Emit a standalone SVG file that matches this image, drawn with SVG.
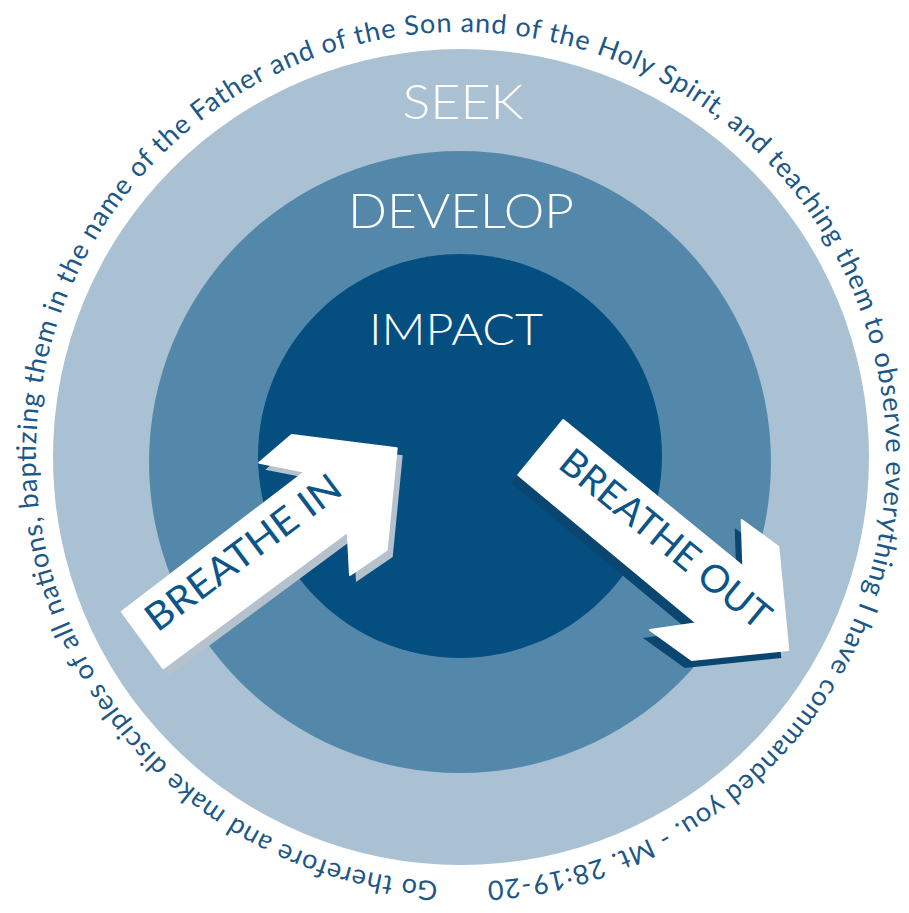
<svg xmlns="http://www.w3.org/2000/svg" xmlns:xlink="http://www.w3.org/1999/xlink" width="909" height="913" viewBox="0 0 909 913">
<style>
.lbl{font-family:Lato,"Open Sans","Liberation Sans",sans-serif;font-weight:300;fill:#ffffff;text-anchor:middle}
.arrtxt{font-family:Lato,"Open Sans","Liberation Sans",sans-serif;font-weight:400;fill:#0b5589;text-anchor:middle}
.ring{font-family:Lato,"Open Sans","Liberation Sans",sans-serif;font-weight:400;fill:#1c5787;font-size:27px}
.arrow{fill:#ffffff;stroke:#ffffff;stroke-width:2;stroke-linejoin:round}
</style>
<defs>
<path id="ringpath" d="M 461 882 A 425 425 0 1 1 461 32 A 425 425 0 1 1 461 882"/>
</defs>
<rect width="909" height="913" fill="#ffffff"/>
<g id="seek">
<circle cx="461" cy="457" r="408" fill="#a9c1d3"/>
<text class="lbl" x="463" y="119" font-size="47" textLength="121" lengthAdjust="spacingAndGlyphs">SEEK</text>
</g>
<g id="develop">
<circle cx="460" cy="462" r="311" fill="#5488ab"/>
<text class="lbl" x="461" y="228" font-size="48" textLength="226" lengthAdjust="spacingAndGlyphs">DEVELOP</text>
</g>
<g id="impact">
<circle cx="460" cy="456" r="202" fill="#044f80"/>
<text class="lbl" x="456" y="345" font-size="44" textLength="174" lengthAdjust="spacingAndGlyphs">IMPACT</text>
</g>
<g id="scripture">
<text class="ring"><textPath xlink:href="#ringpath" href="#ringpath" startOffset="23" textLength="2621" lengthAdjust="spacing">Go therefore and make disciples of all nations, baptizing them in the name of the Father and of the Son and of the Holy Spirit, and teaching them to observe everything I have commanded you. - Mt. 28:19-20</textPath></text>
</g>
<g id="breathe-in">
<polygon points="127.7,618.7 311,478.7 265.3,469.7 297.7,442 402.7,455.3 392.7,557 356,582 353.7,538.7 169.3,675.3" fill="#b5c2cd"/>
<polygon class="arrow" points="121.7,611.7 305,471.7 259.3,462.7 291.7,435 396.7,448.3 386.7,550 350,575 347.7,531.7 163.3,668.3"/>
<text class="arrtxt" font-size="38" transform="translate(251,563) rotate(-36.8)" textLength="234" lengthAdjust="spacingAndGlyphs">BREATHE IN</text>
</g>
<g id="breathe-out">
<polygon points="556.3,428 736.3,574.7 734.7,528 771.3,554.7 781.3,658 684.7,668 643,638 689.7,631.3 511.3,483" fill="#0a4670"/>
<polygon class="arrow" points="563.3,420 743.3,566.7 741.7,520 778.3,546.7 788.3,650 691.7,660 650,630 696.7,623.3 518.3,475"/>
<text class="arrtxt" font-size="38" transform="translate(657,549) rotate(39.3)" textLength="260" lengthAdjust="spacingAndGlyphs">BREATHE OUT</text>
</g>
</svg>
